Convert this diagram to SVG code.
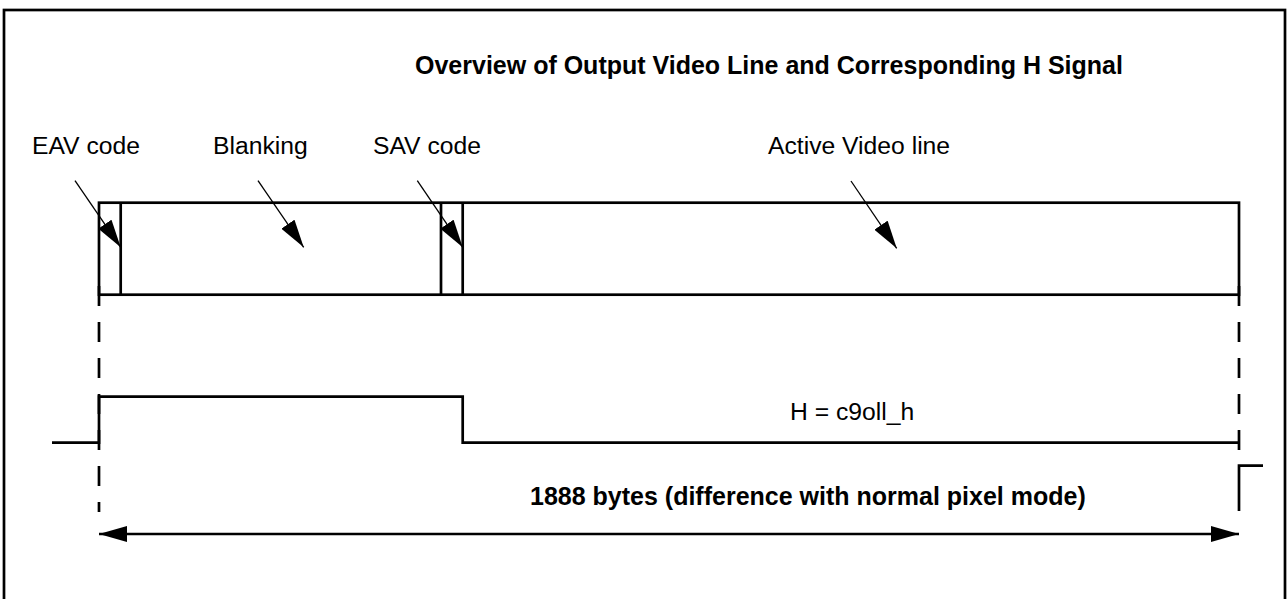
<svg xmlns="http://www.w3.org/2000/svg" width="1287" height="599" viewBox="0 0 1287 599">
<style>
.t{font-family:"Liberation Sans",Arial,sans-serif;font-size:24.7px;fill:#000}
.b{font-weight:bold;font-size:25px}
.thick{stroke:#000;stroke-width:2.7;fill:none}
.thin{stroke:#000;stroke-width:1.3;fill:none}
.dash{stroke:#000;stroke-width:2.7;fill:none;stroke-dasharray:20 16}
</style>
<defs>
<marker id="ah" viewBox="0 0 28 16" refX="28" refY="8" markerWidth="28" markerHeight="16" markerUnits="userSpaceOnUse" orient="auto-start-reverse">
<path d="M0,0 L28,8 L0,16 Z" fill="#000"/>
</marker>
</defs>
<rect x="4" y="10" width="1281" height="600" fill="#fff" stroke="#000" stroke-width="2.7"/>
<text class="t b" x="415" y="74">Overview of Output Video Line and Corresponding H Signal</text>
<g id="eav"><text class="t" x="32" y="154">EAV code</text></g>
<g id="blanking"><text class="t" x="213" y="154">Blanking</text></g>
<g id="sav"><text class="t" x="373" y="154">SAV code</text></g>
<g id="active"><text class="t" x="768" y="154">Active Video line</text></g>
<g id="videoline">
<rect class="thick" x="99" y="202.7" width="1140" height="92"/>
<line class="thick" x1="120.7" y1="202.7" x2="120.7" y2="294.7"/>
<line class="thick" x1="441" y1="202.7" x2="441" y2="294.7"/>
<line class="thick" x1="462.7" y1="202.7" x2="462.7" y2="294.7"/>
</g>
<g id="hsignal">
<path class="thick" d="M52,442.7 H99 V396.7 H462.7 V442.7 H1239"/>
<text class="t" x="790" y="420">H = c9oll_h</text>
<path class="thick" d="M1263,465.7 H1239 V511"/>
</g>
<g id="bytes">
<text class="t b" x="530" y="505">1888 bytes (difference with normal pixel mode)</text>
</g>
<g id="connectors">
<line class="thin" x1="75" y1="180.7" x2="120.7" y2="247.3" marker-end="url(#ah)"/>
<line class="thin" x1="258" y1="180.7" x2="303.7" y2="247.3" marker-end="url(#ah)"/>
<line class="thin" x1="417.3" y1="180.7" x2="462.7" y2="247.3" marker-end="url(#ah)"/>
<line class="thin" x1="851" y1="181" x2="896.7" y2="248.3" marker-end="url(#ah)"/>
<line class="dash" x1="99" y1="286" x2="99" y2="512"/>
<line class="dash" x1="1239" y1="286" x2="1239" y2="450"/>
<line class="thick" x1="99" y1="534" x2="1239" y2="534" marker-start="url(#ah)" marker-end="url(#ah)"/>
</g>
</svg>
